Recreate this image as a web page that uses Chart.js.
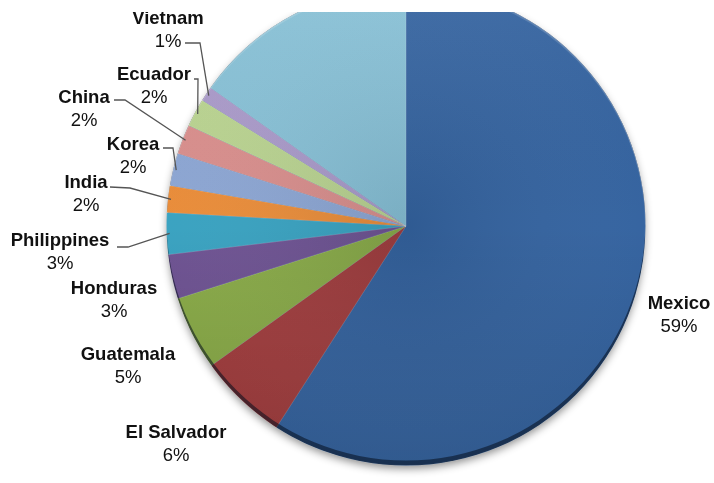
<!DOCTYPE html>
<html>
<head>
<meta charset="utf-8">
<script src="https://cdn.jsdelivr.net/npm/chart.js@4"></script>
<style>
  html, body { margin: 0; padding: 0; background: #fff; }
  #frame { position: absolute; left: 0; top: 12px; width: 714px; height: 471px; overflow: hidden; }
  #pie { position: absolute; left: 0; top: -36px; width: 714px; height: 520px; }
</style>
</head>
<body>
<div id="frame"><canvas id="pie" width="714" height="520"></canvas></div>
<script>
// Share by country of birth (%), clockwise from 12 o'clock
const categories = ['Mexico', 'El Salvador', 'Guatemala', 'Honduras', 'Philippines', 'India', 'Korea', 'China', 'Ecuador', 'Vietnam', 'Other'];
const shares = [59.1, 6.0, 5.0, 3.0, 2.8, 1.8, 2.2, 2.0, 1.9, 1.0, 15.2];
const sliceColors = ['#30609e', '#a0393a', '#87a944', '#6b4f90', '#35a0bf', '#e98a35', '#8aa4d2', '#d88c8a', '#b8d28e', '#a898c8', '#85bfd5'];

// where Excel put each label (page coords, centre of the name line) and the elbow of its leader
const labelSpots = [
    { x: 679, y: 302 },
    { x: 176, y: 431 },
    { x: 128, y: 353 },
    { x: 114, y: 287 },
    { x: 60,  y: 239, leader: [[117, 247], [128, 247]] },
    { x: 86,  y: 181, leader: [[110, 187], [130, 188]] },
    { x: 133, y: 143, leader: [[163, 148], [173, 148]] },
    { x: 84,  y: 96,  leader: [[114, 100], [125, 100]] },
    { x: 154, y: 73,  leader: [[194, 79], [198, 79]] },
    { x: 168, y: 17,  leader: [[185, 43], [200, 43]] },
    null
];
const PAGE_TO_CANVAS = 24; // canvas top sits 24px above the page top

const pieStyle = {
    id: 'pieStyle',
    beforeDatasetsDraw(chart) {
        const arc = chart.getDatasetMeta(0).data[0];
        const ctx = chart.ctx;
        ctx.save();
        ctx.shadowColor = 'rgba(0,0,0,0.45)';
        ctx.shadowBlur = 9;
        ctx.shadowOffsetY = 4;
        ctx.fillStyle = '#2b5488';
        ctx.beginPath();
        ctx.arc(arc.x, arc.y, arc.outerRadius - 1, 0, Math.PI * 2);
        ctx.fill();
        ctx.restore();
    },
    afterDatasetsDraw(chart) {
        const arc = chart.getDatasetMeta(0).data[0];
        const ctx = chart.ctx;
        const cx = arc.x, cy = arc.y, r = arc.outerRadius;
        ctx.save();
        ctx.beginPath();
        ctx.arc(cx, cy, r, 0, Math.PI * 2);
        ctx.clip();
        // soft top-to-bottom shading
        const g = ctx.createLinearGradient(0, cy - r, 0, cy + r);
        g.addColorStop(0, 'rgba(255,255,255,0.06)');
        g.addColorStop(0.5, 'rgba(0,0,0,0.0)');
        g.addColorStop(1, 'rgba(0,0,0,0.12)');
        ctx.fillStyle = g;
        ctx.fillRect(cx - r, cy - r, r * 2, r * 2);
        // darker near the centre
        const rg = ctx.createRadialGradient(cx, cy, 0, cx, cy, r);
        rg.addColorStop(0, 'rgba(40,50,60,0.12)');
        rg.addColorStop(1, 'rgba(255,255,255,0.03)');
        ctx.fillStyle = rg;
        ctx.fillRect(cx - r, cy - r, r * 2, r * 2);
        // dark bevel along the lower rim
        ctx.beginPath();
        ctx.arc(cx, cy, r, 0, Math.PI * 2);
        ctx.arc(cx, cy - 5, r, 0, Math.PI * 2);
        ctx.fillStyle = 'rgba(5,15,30,0.55)';
        ctx.fill('evenodd');
        // light rim on the upper edge
        ctx.beginPath();
        ctx.arc(cx, cy + 2, r, Math.PI * 1.05, Math.PI * 1.95);
        ctx.arc(cx, cy, r, Math.PI * 1.95, Math.PI * 1.05, true);
        ctx.fillStyle = 'rgba(255,255,255,0.15)';
        ctx.fill();
        ctx.restore();
    },
    afterDraw(chart) {
        const meta = chart.getDatasetMeta(0);
        const ctx = chart.ctx;
        ctx.save();
        ctx.textAlign = 'center';
        ctx.textBaseline = 'alphabetic';
        meta.data.forEach((a, i) => {
            const spot = labelSpots[i];
            if (!spot) return;
            const y = spot.y + PAGE_TO_CANVAS;
            if (spot.leader) {
                const mid = (a.startAngle + a.endAngle) / 2;
                const ex = a.x + Math.cos(mid) * (a.outerRadius - 3);
                const ey = a.y + Math.sin(mid) * (a.outerRadius - 3);
                ctx.strokeStyle = '#555';
                ctx.lineWidth = 1.3;
                ctx.beginPath();
                ctx.moveTo(spot.leader[0][0], spot.leader[0][1] + PAGE_TO_CANVAS);
                ctx.lineTo(spot.leader[1][0], spot.leader[1][1] + PAGE_TO_CANVAS);
                ctx.lineTo(ex, ey);
                ctx.stroke();
            }
            ctx.fillStyle = '#111';
            ctx.font = 'bold 18.5px "Liberation Sans", Arial, sans-serif';
            ctx.fillText(categories[i], spot.x, y + 6.5);
            ctx.font = '18.5px "Liberation Sans", Arial, sans-serif';
            ctx.fillText(Math.round(shares[i]) + '%', spot.x, y + 29.5);
        });
        ctx.restore();
    }
};

new Chart(document.getElementById('pie'), {
    type: 'pie',
    data: {
        labels: categories,
        datasets: [{
            data: shares,
            backgroundColor: sliceColors,
            borderColor: 'rgba(255,255,255,0.12)',
            borderWidth: 1,
            hoverOffset: 0
        }]
    },
    options: {
        responsive: false,
        animation: false,
        devicePixelRatio: 1,
        layout: { padding: { top: 10, bottom: 30, left: 150, right: 52 } },
        plugins: {
            legend: { display: false },
            tooltip: { enabled: false }
        }
    },
    plugins: [pieStyle]
});
</script>
</body>
</html>
